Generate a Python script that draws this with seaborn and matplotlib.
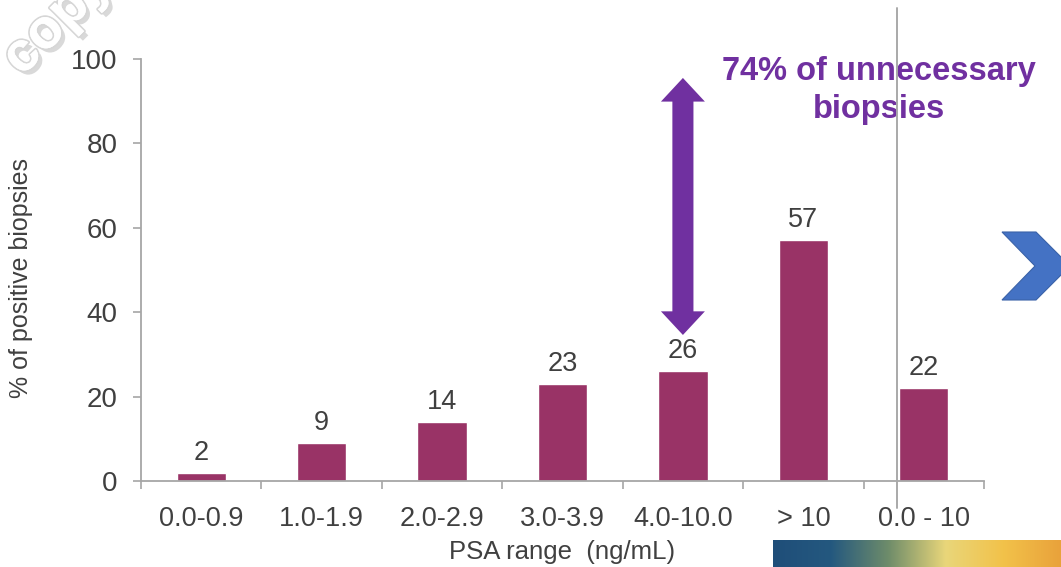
import matplotlib
matplotlib.use("Agg")
import matplotlib.pyplot as plt
import matplotlib.patheffects as pe
from matplotlib.lines import Line2D
from matplotlib.patches import Polygon
from matplotlib.colors import LinearSegmentedColormap
import numpy as np
import pandas as pd
import seaborn as sns

# ---- data -------------------------------------------------------------
psa_ranges = ["0.0-0.9", "1.0-1.9", "2.0-2.9", "3.0-3.9", "4.0-10.0", "> 10", "0.0 - 10"]
positive_pct = [2, 9, 14, 23, 26, 57, 22]
y_ticks = [0, 20, 40, 60, 80, 100]

# double arrow spanning the unnecessary-biopsy share in the 4.0-10.0 group
arrow_category = 4
arrow_top = 95.5
arrow_bottom = 34.6
callout_text = "74% of unnecessary\nbiopsies"

# ---- style ------------------------------------------------------------
sns.set_theme(style="white")
plt.rcParams["font.family"] = ["Liberation Sans", "DejaVu Sans"]

BAR = "#993366"
PURPLE = "#7030A0"
AXIS = "#A6A6A6"
TEXT = "#404040"

fig = plt.figure(figsize=(10.61, 5.67), dpi=100)
ax = fig.add_axes([0.1329, 0.1517, 0.7945, 0.7443])

df = pd.DataFrame({"range": psa_ranges, "pct": positive_pct})
sns.barplot(data=df, x="range", y="pct", color=BAR, saturation=1,
            width=0.41, ax=ax)

ax.set_xlim(-0.5, len(psa_ranges) - 0.5)
ax.set_ylim(0, 100)

# axes & ticks
for side in ("top", "right"):
    ax.spines[side].set_visible(False)
for side in ("left", "bottom"):
    ax.spines[side].set_color(AXIS)
    ax.spines[side].set_linewidth(1.3)

ax.set_yticks(y_ticks)
ax.set_yticklabels([str(t) for t in y_ticks])
ax.tick_params(axis="y", length=6, width=1.2, color=AXIS, labelcolor=TEXT,
               labelsize=20, pad=11, left=True)
ax.set_xticks(range(len(psa_ranges)))
ax.set_xticklabels(psa_ranges)
ax.tick_params(axis="x", which="major", length=0, labelcolor=TEXT,
               labelsize=19.5, pad=18)
ax.set_xticks(np.arange(-0.5, len(psa_ranges), 1.0), minor=True)
ax.tick_params(axis="x", which="minor", length=6, width=1.2, color=AXIS,
               bottom=True)

ax.set_xlabel("PSA range  (ng/mL)", fontsize=18.5, color=TEXT, labelpad=6)
ax.set_ylabel("% of positive biopsies", fontsize=18, color=TEXT)
ax.yaxis.set_label_coords(-0.128, 0.48)

ax.bar_label(ax.containers[0], labels=[str(v) for v in positive_pct],
             padding=5, fontsize=19.5, color=TEXT)

# double-headed block arrow as one outline
hw, sw, hl = 0.1825, 0.0875, 5.6   # head half-width, shaft half-width, head length
cx = arrow_category
arrow_outline = [
    (cx, arrow_top), (cx + hw, arrow_top - hl), (cx + sw, arrow_top - hl),
    (cx + sw, arrow_bottom + hl), (cx + hw, arrow_bottom + hl), (cx, arrow_bottom),
    (cx - hw, arrow_bottom + hl), (cx - sw, arrow_bottom + hl),
    (cx - sw, arrow_top - hl), (cx - hw, arrow_top - hl),
]
ax.add_patch(Polygon(arrow_outline, closed=True, facecolor=PURPLE, edgecolor="none",
                     clip_on=False, zorder=5))

ax.text(5.63, 92.6, callout_text, ha="center", va="center", fontsize=23.5,
        fontweight="bold", color=PURPLE, linespacing=1.28, multialignment="center",
        clip_on=False)

# slide divider line
W, H = 1061, 567
fig.add_artist(Line2D([897 / W, 897 / W], [1 - 8 / H, 1 - 508 / H],
                      color="#A9A9A9", lw=1.4, zorder=6))

# blue chevron at the right edge
chev_px = [(1002, 232), (1036, 232), (1070, 266), (1036, 300), (1002, 300), (1035, 266)]
fig.add_artist(Polygon([(x / W, 1 - y / H) for x, y in chev_px], closed=True,
                       facecolor="#4472C4", edgecolor="#3A62A8", lw=0.8,
                       transform=fig.transFigure))

# banner strip at the bottom right
band = fig.add_axes([773 / W, 0, (W - 773) / W, 27 / H])
cmap = LinearSegmentedColormap.from_list(
    "banner", ["#1F4E79", "#24587F", "#6E8C6A", "#E9D67A", "#F2C24A", "#E9A23B"])
band.imshow(np.linspace(0, 1, 256)[None, :], aspect="auto", cmap=cmap)
band.set_axis_off()

# corner watermark
fig.text(22 / W, 1 - 77 / H, "copyright", rotation=45, rotation_mode="anchor",
         ha="left", va="baseline", fontsize=40, fontweight="bold", color="white",
         path_effects=[pe.SimplePatchShadow(offset=(3, -3), shadow_rgbFace="#A0A0A0", alpha=0.4),
                       pe.withStroke(linewidth=2.5, foreground="#D6D6D6"),
                       pe.Normal()])

fig.savefig("out.png", dpi=100, facecolor="white")
